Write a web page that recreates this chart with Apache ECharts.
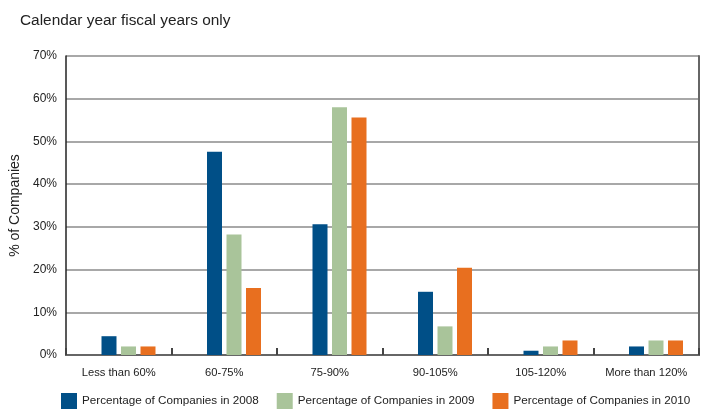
<!DOCTYPE html>
<html>
<head>
<meta charset="utf-8">
<script src="https://cdn.jsdelivr.net/npm/echarts@6/dist/echarts.min.js"></script>
<style>html,body{margin:0;padding:0;background:#fff}#c{width:706px;height:411px}</style>
</head>
<body>
<div id="c"></div>
<script>
const categories = ['Less than 60%', '60-75%', '75-90%', '90-105%', '105-120%', 'More than 120%'];
const seriesNames = ['Percentage of Companies in 2008', 'Percentage of Companies in 2009', 'Percentage of Companies in 2010'];
const values2008 = [4.4, 47.6, 30.6, 14.8, 1.0, 2.0];
const values2009 = [2.0, 28.2, 58.0, 6.7, 2.0, 3.4];
const values2010 = [2.0, 15.7, 55.6, 20.4, 3.4, 3.4];
const placeholder = ['-', '-', '-', '-', '-', '-'];
const yTicks = [0, 10, 20, 30, 40, 50, 60, 70];
const colors = ['#004f87', '#a9c49a', '#e86f1f'];
const FONT = 'Liberation Sans, Arial, sans-serif';

const chart = echarts.init(document.getElementById('c'), null, {renderer: 'canvas'});
const bar = (name, data, color) => ({
  name, type: 'bar', data, barWidth: 15, barGap: '30%',
  itemStyle: {color}, xAxisIndex: 0, yAxisIndex: 0
});
chart.setOption({
  animation: false,
  textStyle: {fontFamily: FONT},
  title: {
    text: 'Calendar year fiscal years only', left: 15, top: 8,
    textStyle: {fontFamily: FONT, fontSize: 15.4, fontWeight: 'normal', color: '#222'}
  },
  legend: {
    data: seriesNames, left: 56, top: 388, itemWidth: 16, itemHeight: 16, itemGap: 18,
    icon: 'rect', textStyle: {fontFamily: FONT, fontSize: 11.7, color: '#222'}
  },
  grid: {left: 66, right: 7, top: 56, bottom: 56},
  xAxis: [{
    type: 'category', data: categories, position: 'bottom',
    axisLine: {lineStyle: {color: '#444', width: 2}},
    axisTick: {show: true, inside: true, length: 7, interval: 0, lineStyle: {color: '#444', width: 2}},
    axisLabel: {fontFamily: FONT, fontSize: 11.2, color: '#222', margin: 12, interval: 0}
  }, {
    type: 'category', data: categories, position: 'top',
    axisLine: {lineStyle: {color: '#666', width: 2}},
    axisTick: {show: false}, axisLabel: {show: false}
  }],
  yAxis: [{
    type: 'value', min: yTicks[0], max: yTicks[yTicks.length - 1], interval: 10,
    name: '% of Companies', nameLocation: 'middle', nameGap: 41, nameRotate: 90,
    nameTextStyle: {fontFamily: FONT, fontSize: 14, color: '#222'},
    axisLine: {show: true, lineStyle: {color: '#222', width: 1.5}},
    axisTick: {show: false},
    axisLabel: {fontFamily: FONT, fontSize: 12, color: '#222', margin: 9, formatter: v => v + '%'},
    splitLine: {lineStyle: {color: '#a8a8a8', width: 2}}
  }, {
    type: 'value', min: yTicks[0], max: yTicks[yTicks.length - 1], interval: 10, position: 'right',
    axisLine: {show: true, lineStyle: {color: '#666', width: 2}},
    axisTick: {show: false}, axisLabel: {show: false}, splitLine: {show: false}
  }],
  series: [
    {name: 'placeholder', type: 'bar', data: placeholder, barWidth: 15, barGap: '30%'},
    bar(seriesNames[0], values2008, colors[0]),
    bar(seriesNames[1], values2009, colors[1]),
    bar(seriesNames[2], values2010, colors[2])
  ]
});
</script>
</body>
</html>
